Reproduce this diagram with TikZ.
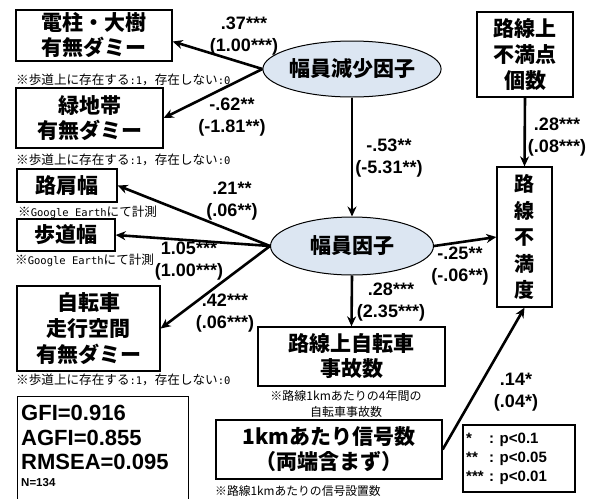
\documentclass[tikz,border=0pt]{standalone}
\usepackage{fontspec}
\setmainfont{Liberation Sans}
\newfontfamily\jp{Noto Sans CJK JP}
\newfontfamily\mono{DejaVu Sans Mono}
\newcommand{\hw}[1]{{\mono\fontsize{10.5}{16}\selectfont #1}}
\usetikzlibrary{arrows.meta,calc,shapes.geometric}
\definecolor{ellfill}{RGB}{220,230,242}
\tikzset{
 box/.style={draw,line width=1.3pt,inner sep=0pt,align=center,font=\jp\bfseries\fontsize{21}{25}\selectfont},
 ell/.style={draw,ellipse,fill=ellfill,line width=1pt,inner sep=0pt,font=\jp\bfseries\fontsize{21}{24}\selectfont},
 coef/.style={align=center,font=\bfseries\fontsize{18}{21.5}\selectfont,inner sep=0pt},
 note/.style={font=\jp\fontsize{12.6}{16}\selectfont,inner sep=0pt},
 fit/.style={font=\bfseries\fontsize{22}{25}\selectfont,inner sep=0pt,anchor=west},
 arr/.style={line width=2.6pt,-{Stealth[length=10pt,width=9pt]}},
}
\begin{document}
\begin{tikzpicture}[x=1pt,y=-1pt]
\useasboundingbox (0,0) rectangle (602,498);
% boxes
\node[box,minimum width=156pt,minimum height=51pt] (b1) at (94,35.5) {電柱・大樹\\有無ダミー};
\node[box,minimum width=147pt,minimum height=60pt] (b2) at (89.5,118) {緑地帯\\有無ダミー};
\node[box,minimum width=100pt,minimum height=33pt] (b3) at (67,185.5) {路肩幅};
\node[box,minimum width=98pt,minimum height=32pt] (b4) at (66,235) {歩道幅};
\node[box,minimum width=143pt,minimum height=85pt,font=\jp\bfseries\fontsize{21}{26}\selectfont] (b5) at (88.5,328.5) {自転車\\走行空間\\有無ダミー};
\node[ell,minimum width=162pt,minimum height=56pt] (e1) at (352,69) {幅員減少因子};
\node[ell,minimum width=163pt,minimum height=58pt] (e2) at (352,246) {幅員因子};
\node[box,minimum width=96pt,minimum height=85pt,font=\jp\bfseries\fontsize{21}{26}\selectfont] (b6) at (525,54.5) {路線上\\不満点\\個数};
\node[box,minimum width=55pt,minimum height=140pt,font=\jp\bfseries\fontsize{20}{26.5}\selectfont] (b7) at (524.5,237) {路\\線\\不\\満\\度};
\node[box,minimum width=187pt,minimum height=59pt] (b8) at (351.5,356.5) {路線上自転車\\事故数};
\node[box,minimum width=226pt,minimum height=59pt] (b9) at (329,449.5) {1kmあたり信号数\\（両端含まず）};
\node[draw,line width=1.3pt,minimum width=171pt,minimum height=110pt,anchor=north west,inner sep=0pt] (gfi) at (17,396) {};
\node[draw,line width=1.3pt,minimum width=112pt,minimum height=67pt,inner sep=0pt] (leg) at (519,458.5) {};
% notes
\node[note,anchor=west] (n1) at (16,80) {※歩道上に存在する\hw{:1}，存在しない\hw{:0}};
\node[note,anchor=west] (n2) at (16,160) {※歩道上に存在する\hw{:1}，存在しない\hw{:0}};
\node[note,anchor=west] (n3) at (18,212) {※\hw{Google Earth}にて計測};
\node[note,anchor=west] (n4) at (15,260) {※\hw{Google Earth}にて計測};
\node[note,anchor=west] (n5) at (16,380) {※歩道上に存在する\hw{:1}，存在しない\hw{:0}};
\node[note,align=center,font=\jp\fontsize{12}{16}\selectfont] (n6) at (346,404) {※路線1kmあたりの4年間の\\自転車事故数};
\node[note,anchor=west,font=\jp\fontsize{11.8}{16}\selectfont] (n7) at (215,491) {※路線1kmあたりの信号設置数};
% fit indices
\node[fit] (g1) at (21,413) {GFI=0.916};
\node[fit] (g2) at (21,438) {AGFI=0.855};
\node[fit] (g3) at (21,462) {RMSEA=0.095};
\node[fit,font=\bfseries\fontsize{11.5}{14}\selectfont] (g4) at (21,483) {N=134};
% legend text
\node[anchor=west,inner sep=0pt,font=\bfseries\fontsize{15}{19}\selectfont] (legt) at (466,459)
 {\begin{tabular}{@{}p{23pt}@{}l@{}}{}*&: p<0.1\\{}**&: p<0.05\\{}***&: p<0.01\end{tabular}};
% arrows
\draw[arr] (e1.west) -- ($(b1.east)+(0,6)$);
\draw[arr] (e1.west) -- (b2.east);
\draw[arr] (e1.south) -- (e2.north);
\draw[arr] (e2.west) -- (b3.east);
\draw[arr] (e2.west) -- (b4.east);
\draw[arr] (e2.west) -- (b5.east);
\draw[arr] (e2.east) -- (b7.west);
\draw[arr] (e2.south) -- (b8.north);
\draw[arr] (b6.south) -- (b7.north);
\draw[arr] (b9.east) -- (b7.south);
% coefficients
\node[coef] (c1) at (244,36) {.37***\\(1.00***)};
\node[coef] (c2) at (232,117) {-.62**\\(-1.81**)};
\node[coef] (c3) at (389,158) {-.53**\\(-5.31**)};
\node[coef] (c4) at (557,137) {.28***\\(.08***)};
\node[coef] (c5) at (232,201) {.21**\\(.06**)};
\node[coef] (c6) at (189,261) {1.05***\\(1.00***)};
\node[coef] (c7) at (225,313) {.42***\\(.06***)};
\node[coef] (c8) at (460,266) {-.25**\\(-.06**)};
\node[coef] (c9) at (391,302) {.28***\\(2.35***)};
\node[coef] (c10) at (516,392) {.14*\\(.04*)};
\end{tikzpicture}
\end{document}
